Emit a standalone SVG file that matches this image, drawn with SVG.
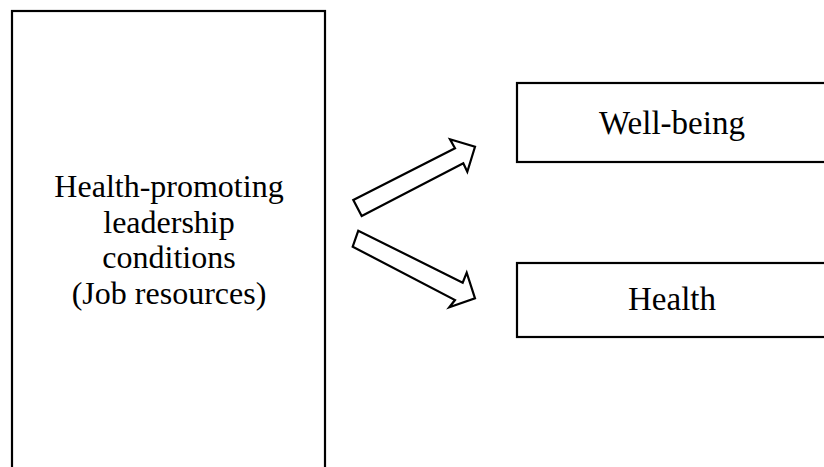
<svg xmlns="http://www.w3.org/2000/svg" width="824" height="467" viewBox="0 0 824 467">
<style>
.box{fill:#fff;stroke:#000;stroke-width:2.2}
.arr{fill:#fff;stroke:#000;stroke-width:2.2;stroke-linejoin:miter}
text{font-family:"Liberation Serif","Times New Roman",serif;font-size:32px;fill:#000;text-anchor:middle}
</style>
<rect width="824" height="467" fill="#fff"/>
<g id="node-leadership">
<rect class="box" x="12" y="11" width="313" height="470"/>
<text x="169" y="197">Health-promoting</text>
<text x="169" y="232.5">leadership</text>
<text x="169" y="268">conditions</text>
<text x="169" y="303.5">(Job resources)</text>
</g>
<g id="node-wellbeing">
<rect class="box" x="517" y="83" width="320" height="79"/>
<text x="672" y="133.5" style="font-size:33px">Well-being</text>
</g>
<g id="node-health">
<rect class="box" x="517" y="263" width="320" height="74"/>
<text x="672" y="310" style="font-size:33px">Health</text>
</g>
<g id="connectors">
<polygon class="arr" points="353.3,200 361.7,216 463.3,163.3 467.3,171.7 475,146.7 450,139.3 455,148.3"/>
<polygon class="arr" points="358.3,230.7 352.7,246.7 455,300 449.3,307.3 475,298.3 466.7,272.7 462.7,282.7"/>
</g>
</svg>
